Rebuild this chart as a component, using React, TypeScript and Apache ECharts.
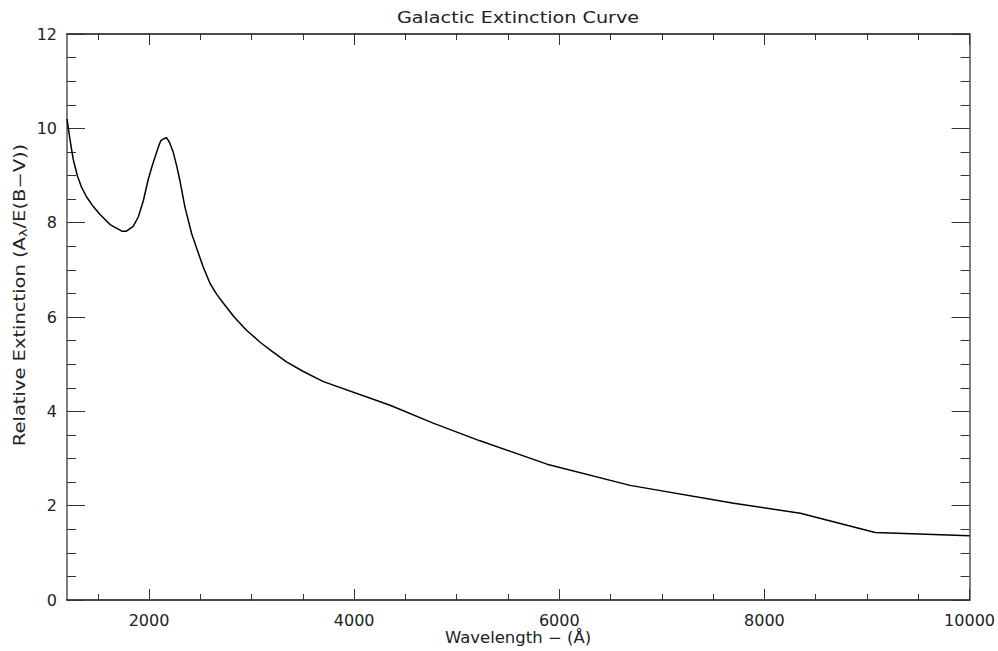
import React, { useEffect, useRef } from "react";
import * as echarts from "echarts";

const wavelength = [1200, 1230, 1260, 1300, 1340, 1390, 1450, 1520, 1620, 1735, 1780, 1845, 1895, 1945, 1990, 2030, 2060, 2090, 2115, 2145, 2170, 2200, 2235, 2270, 2300, 2350, 2415, 2465, 2530, 2595, 2660, 2725, 2830, 2950, 3080, 3200, 3340, 3500, 3700, 4350, 4770, 5220, 5880, 6690, 7700, 8350, 9080, 10000];
const extinction = [10.2, 9.75, 9.35, 9.0, 8.76, 8.55, 8.36, 8.18, 7.96, 7.82, 7.82, 7.92, 8.12, 8.47, 8.9, 9.2, 9.4, 9.6, 9.74, 9.78, 9.8, 9.7, 9.5, 9.2, 8.9, 8.33, 7.77, 7.45, 7.05, 6.71, 6.48, 6.29, 6.0, 5.72, 5.47, 5.27, 5.05, 4.85, 4.63, 4.13, 3.75, 3.38, 2.88, 2.43, 2.05, 1.84, 1.43, 1.36];

const xMajorTicks = [2000, 4000, 6000, 8000, 10000];
const xMinorTicks = [1500, 2500, 3000, 3500, 4500, 5000, 5500, 6500, 7000, 7500, 8500, 9000, 9500];

const titleText = "Galactic Extinction Curve";
const xTitle = "Wavelength \u2212 (\u00C5)";
const yTitle = "Relative Extinction (A{s|\u03BB}/E(B\u2212V))";

const FONT = "DejaVu Sans";
const TICK = "#333";

export default function App() {
  const ref = useRef<HTMLDivElement>(null);
  useEffect(() => {
    if (!ref.current) return;
    const chart = echarts.init(ref.current, undefined, { renderer: "svg" });
    const xBase = { type: "value", min: 1200, max: 10000, splitLine: { show: false } };
    const yBase = { type: "value", min: 0, max: 12, interval: 2, splitLine: { show: false } };
    const hiddenLine = { show: false };
    chart.setOption({
      animation: false,
      backgroundColor: "#fff",
      grid: { left: 67, right: 27, top: 34, bottom: 51, containLabel: false },
      graphic: [
        {
          type: "text",
          x: 518,
          y: 18,
          scaleX: 1.2,
          style: {
            text: titleText,
            align: "center",
            verticalAlign: "middle",
            font: `16px "${FONT}"`,
            fill: "#222",
          },
        },
        {
          type: "text",
          x: 518,
          y: 638,
          scaleX: 1.1,
          style: {
            text: xTitle,
            align: "center",
            verticalAlign: "middle",
            font: `15px "${FONT}"`,
            fill: "#222",
          },
        },
        {
          type: "text",
          x: 20,
          y: 295,
          rotation: Math.PI / 2,
          scaleX: 1.3,
          style: {
            text: yTitle,
            align: "center",
            verticalAlign: "middle",
            font: `15px "${FONT}"`,
            fill: "#222",
            rich: {
              s: { fontSize: 11, fontFamily: FONT, verticalAlign: "bottom", padding: [6, 0, 0, 0], fill: "#222" },
            },
          },
        },
      ],
      xAxis: [
        {
          ...xBase,
          position: "bottom",
          axisLine: { show: true, lineStyle: { color: "#111", width: 1.5 } },
          axisTick: { show: true, inside: true, length: 11, customValues: xMajorTicks, lineStyle: { color: TICK } },
          axisLabel: {
            show: true,
            customValues: xMajorTicks,
            formatter: (v: number) => String(v),
            fontFamily: FONT,
            fontSize: 16,
            color: "#222",
            margin: 12,
          },
        },
        {
          ...xBase,
          position: "bottom",
          axisLine: hiddenLine,
          axisTick: { show: true, inside: true, length: 6, customValues: xMinorTicks, lineStyle: { color: TICK } },
          axisLabel: { show: false },
        },
        {
          ...xBase,
          position: "top",
          axisLine: { show: true, lineStyle: { color: "#111", width: 1.5 } },
          axisTick: { show: true, inside: true, length: 11, customValues: xMajorTicks, lineStyle: { color: TICK } },
          axisLabel: { show: false },
        },
        {
          ...xBase,
          position: "top",
          axisLine: hiddenLine,
          axisTick: { show: true, inside: true, length: 6, customValues: xMinorTicks, lineStyle: { color: TICK } },
          axisLabel: { show: false },
        },
      ],
      yAxis: [
        {
          ...yBase,
          position: "left",
          axisLine: { show: true, lineStyle: { color: "#555", width: 1.5 } },
          axisTick: { show: true, inside: true, length: 18, lineStyle: { color: TICK } },
          minorTick: { show: true, splitNumber: 4, length: 9, lineStyle: { color: TICK } },
          axisLabel: { show: true, fontFamily: FONT, fontSize: 16, color: "#222", margin: 10 },
        },
        {
          ...yBase,
          position: "right",
          axisLine: { show: true, lineStyle: { color: "#555", width: 1.5 } },
          axisTick: { show: true, inside: true, length: 18, lineStyle: { color: TICK } },
          minorTick: { show: true, splitNumber: 4, length: 9, lineStyle: { color: TICK } },
          axisLabel: { show: false },
        },
      ],
      series: [
        {
          type: "line",
          xAxisIndex: 0,
          yAxisIndex: 0,
          data: wavelength.map((w, i) => [w, extinction[i]]),
          showSymbol: false,
          symbol: "none",
          lineStyle: { color: "#000", width: 1.5 },
          silent: true,
        },
      ],
    });
    return () => chart.dispose();
  }, []);
  return <div ref={ref} style={{ width: 998, height: 651, position: "absolute", left: 0, top: 0 }} />;
}
